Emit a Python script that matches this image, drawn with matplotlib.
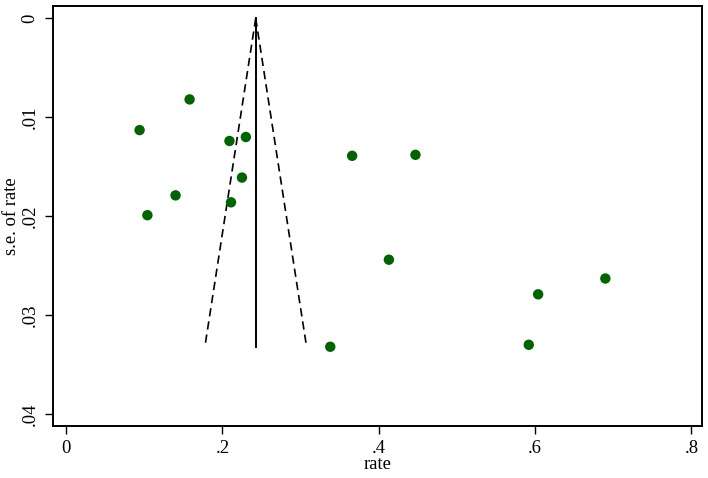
import numpy as np
import matplotlib
matplotlib.use("Agg")
import matplotlib.pyplot as plt

# study estimates
rate = [0.094, 0.158, 0.209, 0.230, 0.225, 0.140, 0.211, 0.104,
        0.366, 0.447, 0.413, 0.338, 0.690, 0.604, 0.592]
se_rate = [0.0113, 0.0082, 0.0124, 0.0120, 0.0161, 0.0179, 0.0186, 0.0199,
           0.0139, 0.0138, 0.0244, 0.0332, 0.0263, 0.0279, 0.0330]

pooled = 0.2426
se_max = 0.0332

x_ticks = [0, 0.2, 0.4, 0.6, 0.8]
x_labels = ['0', '.2', '.4', '.6', '.8']
y_ticks = [0, 0.01, 0.02, 0.03, 0.04]
y_labels = ['0', '.01', '.02', '.03', '.04']

plt.rcParams['font.family'] = ['Liberation Serif', 'DejaVu Serif']

fig = plt.figure(figsize=(7.08, 4.78), dpi=100)
ax = fig.add_axes([0.0753, 0.1094, 0.9167, 0.878])

# pseudo 95% confidence limits
se_line = np.array([0, se_max])
ax.plot(pooled - 1.96 * se_line, se_line, color='black', lw=1.2, ls=(0, (5, 3)))
ax.plot(pooled + 1.96 * se_line, se_line, color='black', lw=1.2, ls=(0, (5, 3)))
ax.plot([pooled, pooled], [0, se_max], color='black', lw=1.4)

ax.scatter(rate, se_rate, s=56, color='#006400', edgecolors='none', zorder=3)

ax.set_xlim(-0.0164, 0.8141)
ax.set_ylim(0.04118, -0.00124)

ax.set_xticks(x_ticks)
ax.set_xticklabels(x_labels)
ax.set_yticks(y_ticks)
ax.set_yticklabels(y_labels, rotation=90, va='center')

ax.tick_params(direction='out', length=5.5, width=1, labelsize=13.4, pad=5, color='black')
ax.set_xlabel('rate', fontsize=13.4, labelpad=-1)
ax.set_ylabel('s.e. of rate', fontsize=13.4, labelpad=1)

for sp in ax.spines.values():
    sp.set_linewidth(1.4)

fig.savefig('out.png', dpi=100)
